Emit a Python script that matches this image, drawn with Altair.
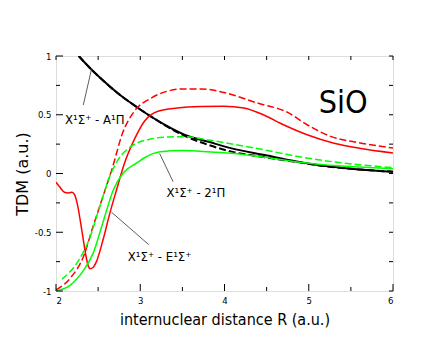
import altair as alt
import pandas as pd

# ---- data ----
a_solid_x = [2.27, 2.4, 2.53, 2.73, 2.97, 3.16, 3.294, 3.53, 3.81, 4.085, 4.48, 4.84, 5.18, 5.6, 6.0]
a_solid_y = [1.0, 0.90, 0.81, 0.685, 0.56, 0.47, 0.413, 0.328, 0.27, 0.214, 0.157, 0.105, 0.065, 0.035, 0.015]
a_dash_x = [2.27, 2.4, 2.53, 2.73, 2.97, 3.16, 3.294, 3.53, 3.81, 4.085, 4.48, 4.84, 5.18, 5.6, 6.0]
a_dash_y = [1.0, 0.90, 0.81, 0.685, 0.56, 0.47, 0.41, 0.32, 0.243, 0.186, 0.138, 0.1, 0.063, 0.035, 0.015]

e_solid_x = [2.0, 2.05, 2.1, 2.15, 2.19, 2.22, 2.25, 2.31, 2.35, 2.38, 2.405, 2.44, 2.48, 2.56, 2.64,
             2.72, 2.80, 2.93, 3.05, 3.21, 3.44, 3.72, 3.99, 4.23, 4.46, 4.70, 4.98, 5.30, 5.6, 6.0]
e_solid_y = [-0.074, -0.12, -0.16, -0.165, -0.16, -0.18, -0.25, -0.5, -0.68, -0.78, -0.81, -0.80, -0.75, -0.56, -0.335,
             -0.136, 0.06, 0.29, 0.445, 0.53, 0.557, 0.57, 0.573, 0.557, 0.50, 0.415, 0.33, 0.258, 0.215, 0.175]
e_dash_x = [2.0, 2.17, 2.33, 2.44, 2.56, 2.67, 2.79, 2.93, 3.125, 3.32, 3.52, 3.72, 3.99, 4.39, 4.75, 4.98, 5.26, 5.58, 6.0]
e_dash_y = [-0.99, -0.89, -0.70, -0.45, -0.19, 0.05, 0.344, 0.53, 0.64, 0.70, 0.72, 0.72, 0.69, 0.60, 0.52, 0.415, 0.316, 0.264, 0.217]

p2_dash_x = [2.07, 2.25, 2.40, 2.52, 2.64, 2.74, 2.89, 3.125, 3.3, 3.53, 3.81, 4.085, 4.48, 4.84, 5.18, 5.6, 6.0]
p2_dash_y = [-0.90, -0.76, -0.55, -0.28, -0.02, 0.12, 0.23, 0.293, 0.31, 0.313, 0.285, 0.251, 0.2, 0.149, 0.11, 0.075, 0.05]
p2_solid_x = [2.0, 2.17, 2.33, 2.44, 2.56, 2.68, 2.80, 2.96, 3.05, 3.24, 3.5, 3.8, 4.085, 4.48, 4.84, 5.18, 5.6, 6.0]
p2_solid_y = [-1.0, -0.95, -0.82, -0.68, -0.41, -0.14, 0.006, 0.09, 0.134, 0.185, 0.195, 0.186, 0.172, 0.138, 0.1, 0.075, 0.055, 0.04]

x_major = [2, 3, 4, 5, 6]
x_minor = [2.5, 3.5, 4.5, 5.5]
y_major = [-1, -0.5, 0, 0.5, 1]
y_minor = [-0.75, -0.25, 0.25, 0.75]

ann_text = ["X¹Σ⁺ - A¹Π", "X¹Σ⁺ - 2¹Π", "X¹Σ⁺ - E¹Σ⁺"]
ann_x = [2.46, 3.66, 3.23]
ann_y = [0.42, -0.20, -0.745]
lead_x1 = [2.324, 3.23, 2.66]
lead_y1 = [0.583, 0.17, -0.33]
lead_x2 = [2.424, 3.39, 3.10]
lead_y2 = [0.896, -0.07, -0.605]

mol_text = ["SiO"]
mol_x = [5.41]
mol_y = [0.515]

W, H = 337, 235
FONT = "DejaVu Sans Condensed, DejaVu Sans"

xs = alt.Scale(domain=[2, 6], nice=False, zero=False)
ys = alt.Scale(domain=[-1, 1], nice=False, zero=False)

xaxis = alt.Axis(values=x_major, labelExpr="datum.value + ''", title="internuclear distance R (a.u.)",
                 domain=False, ticks=False, grid=False, labelFontSize=9.5, labelPadding=4, labelFont=FONT,
                 labelColor="black", titleFont=FONT, titleFontSize=16, titleFontWeight="normal",
                 titleColor="black", titleY=20, titleBaseline="top")
yaxis = alt.Axis(values=y_major, labelExpr="datum.value + ''", title="TDM (a.u.)",
                 domain=False, ticks=False, grid=False, labelFontSize=9.5, labelPadding=5, labelFont=FONT,
                 labelColor="black", titleFont="DejaVu Sans", titleFontSize=16, titleFontWeight="normal",
                 titleColor="black", titleX=-34, titleY=H / 2, titleBaseline="middle", titleAlign="center",
                 titleAngle=270)

X = lambda f="x": alt.X(f + ":Q", scale=xs, axis=xaxis)
Y = lambda f="y": alt.Y(f + ":Q", scale=ys, axis=yaxis)


def curve(xv, yv, color, dash, width):
    df = pd.DataFrame({"x": xv, "y": yv})
    kw = {}
    if dash:
        kw["strokeDash"] = [7, 3]
    return alt.Chart(df).mark_line(color=color, strokeWidth=width, interpolate="monotone", clip=True, **kw).encode(
        x=X(), y=Y())


layers = [
    curve(a_solid_x, a_solid_y, "black", False, 2),
    curve(a_dash_x, a_dash_y, "black", True, 2),
    curve(e_dash_x, e_dash_y, "#ff0000", True, 1.5),
    curve(e_solid_x, e_solid_y, "#ff0000", False, 1.5),
    curve(p2_dash_x, p2_dash_y, "#00ff00", True, 1.5),
    curve(p2_solid_x, p2_solid_y, "#00ff00", False, 1.5),
]

# inward ticks
xt_major = pd.DataFrame({"x": x_major})
xt_minor = pd.DataFrame({"x": x_minor})
yt_major = pd.DataFrame({"y": y_major})
yt_minor = pd.DataFrame({"y": y_minor})
xt_all = pd.DataFrame({"x": x_major + x_minor})
yt_all = pd.DataFrame({"y": y_major + y_minor})


def xtick(df, y1, y2):
    return alt.Chart(df).mark_rule(color="black", strokeWidth=1).encode(
        x=X(), y=alt.value(y1), y2=alt.value(y2))


def ytick(df, x1, x2):
    return alt.Chart(df).mark_rule(color="black", strokeWidth=1).encode(
        y=Y(), x=alt.value(x1), x2=alt.value(x2))


layers += [
    xtick(xt_major, H, H - 7), xtick(xt_minor, H, H - 4), xtick(xt_all, 0, 4),
    ytick(yt_major, 0, 7), ytick(yt_minor, 0, 4), ytick(yt_all, W, W - 4),
]

# leader lines and annotations
lead_df = pd.DataFrame({"x1": lead_x1, "y1": lead_y1, "x2": lead_x2, "y2": lead_y2})
layers.append(alt.Chart(lead_df).mark_rule(color="#333333", strokeWidth=0.8).encode(
    x=X("x1"), y=Y("y1"), x2="x2:Q", y2="y2:Q"))

ann_df = pd.DataFrame({"t": ann_text, "x": ann_x, "y": ann_y})
layers.append(alt.Chart(ann_df).mark_text(font=FONT, fontSize=13, align="center", baseline="alphabetic",
                                          color="black").encode(x=X(), y=Y(), text="t:N"))

mol_df = pd.DataFrame({"t": mol_text, "x": mol_x, "y": mol_y})
layers.append(alt.Chart(mol_df).mark_text(font=FONT, fontSize=32, align="center", baseline="alphabetic",
                                          color="black").encode(x=X(), y=Y(), text="t:N"))

chart = alt.layer(*layers).properties(
    width=W, height=H,
    autosize=alt.AutoSizeParams(type="none"),
    padding={"left": 48, "top": 48, "right": 34, "bottom": 38},
).configure_view(stroke="black", strokeWidth=1).configure(background="white")

chart.save("out.html", embed_options={"renderer": "svg", "actions": False})
